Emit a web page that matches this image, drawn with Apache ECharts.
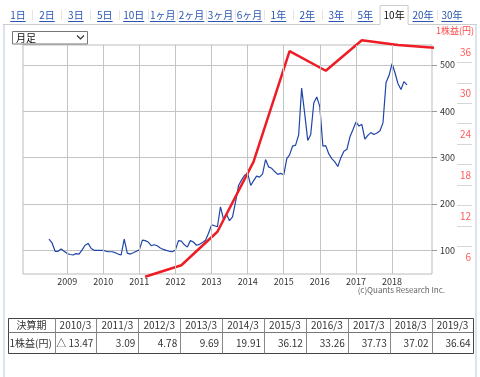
<!DOCTYPE html>
<html>
<head>
<meta charset="utf-8">
<script src="https://cdn.jsdelivr.net/npm/echarts@6/dist/echarts.min.js"></script>
<style>
html, body { margin: 0; padding: 0; background: #fff; }
#chart { width: 480px; height: 377px; }
</style>
</head>
<body>
<div id="chart"></div>
<script>
// 株価 (月足) 2008/7 〜 2018/6
const priceStart = [2008, 7]
const priceValues = [
  124, 116, 98, 98, 103, 98,
  93, 91, 90, 93, 92, 101, 111, 115, 104, 100, 100, 100,
  100, 98, 97, 97, 95, 92, 90, 124, 94, 92, 95, 98,
  101, 122, 121, 118, 110, 112, 110, 105, 102, 100, 98, 97,
  101, 121, 120, 112, 107, 121, 118, 111, 113, 117, 122, 137,
  155, 153, 151, 194, 168, 178, 164, 172, 205, 240, 252, 262,
  266, 240, 250, 260, 258, 265, 296, 280, 277, 270, 264, 266,
  263, 298, 306, 325, 327, 349, 450, 395, 337, 350, 418, 431,
  410, 325, 326, 308, 298, 291, 281, 300, 314, 318, 345, 360,
  377, 368, 372, 340, 348, 354, 350, 353, 358, 375, 462, 477,
  503, 482, 460, 447, 464, 457
]

// 決算期 / 1株益(円)
const periods = ['2010/3', '2011/3', '2012/3', '2013/3', '2014/3', '2015/3', '2016/3', '2017/3', '2018/3', '2019/3']
const epsValues = [-13.47, 3.09, 4.78, 9.69, 19.91, 36.12, 33.26, 37.73, 37.02, 36.64]

const yearTicks = [2009, 2010, 2011, 2012, 2013, 2014, 2015, 2016, 2017, 2018]
const priceTicks = [100, 200, 300, 400, 500]
const epsLabels = [6, 12, 18, 24, 30, 36]
const epsMinor = [7.5, 10.5, 13.5, 16.5, 19.5, 22.5, 25.5, 28.5, 31.5, 34.5]

const tabs = ['1日', '2日', '3日', '5日', '10日', '1ヶ月', '2ヶ月', '3ヶ月', '6ヶ月', '1年', '2年', '3年', '5年', '10年', '20年', '30年']
const activeTab = '10年'

const FONT = '"Noto Sans CJK JP", "Noto Sans", sans-serif'

const priceData = priceValues.map((v, i) => {
  const m = priceStart[1] - 1 + i
  return [new Date(priceStart[0] + Math.floor(m / 12), m % 12, 1).getTime(), v]
})

const epsData = periods
  .map((p, i) => {
    const [y, m] = p.split('/').map(Number)
    return [new Date(y, m - 1, 1).getTime(), epsValues[i]]
  })
  .filter(d => d[1] > 0)

const yearDates = yearTicks.map(y => new Date(y, 0, 1).getTime())

const measure = document.createElement('canvas').getContext('2d')
measure.font = '10px ' + FONT

const graphics = []

// frame
graphics.push({ type: 'rect', shape: { x: 3, y: 24, width: 2, height: 353 }, style: { fill: '#dde3ec' }, silent: true })
graphics.push({ type: 'rect', shape: { x: 475, y: 24, width: 2, height: 353 }, style: { fill: '#dde3ec' }, silent: true })

// tab bar
const tabStep = 28.93
const activeIdx = tabs.indexOf(activeTab)
const aL = 18 + activeIdx * tabStep - 14
const aR = 18 + activeIdx * tabStep + 14
graphics.push({ type: 'line', shape: { x1: 3, y1: 24.5, x2: aL, y2: 24.5 }, style: { stroke: '#ccc' } })
graphics.push({ type: 'line', shape: { x1: aR, y1: 24.5, x2: 477, y2: 24.5 }, style: { stroke: '#ccc' } })
graphics.push({
  type: 'polyline',
  shape: { points: [[aL, 24.5], [aL, 5.5], [aR, 5.5], [aR, 24.5]] },
  style: { stroke: '#ccc', fill: null }
})
tabs.forEach((t, i) => {
  const cx = 18 + i * tabStep
  const active = t === activeTab
  graphics.push({
    type: 'text',
    style: {
      text: t, x: cx, y: 15, align: 'center', verticalAlign: 'middle',
      font: '10px ' + FONT,
      fill: active ? '#111' : '#2a55b0'
    }
  })
  if (!active) {
    const w = measure.measureText(t).width
    graphics.push({ type: 'line', shape: { x1: cx - w / 2, y1: 21.5, x2: cx + w / 2, y2: 21.5 }, style: { stroke: '#2a55b0', lineWidth: 1 } })
  }
  if (i < tabs.length - 1 && i !== activeIdx && i + 1 !== activeIdx) {
    const sx = Math.round(cx + tabStep / 2) + 0.5
    graphics.push({ type: 'line', shape: { x1: sx, y1: 10, x2: sx, y2: 20 }, style: { stroke: '#e6e6e6' } })
  }
})

// 月足 select
graphics.push({ type: 'rect', shape: { x: 12.5, y: 31.5, width: 75, height: 12.5 }, style: { fill: '#fff', stroke: '#777' } })
graphics.push({ type: 'text', style: { text: '月足', x: 16, y: 38, verticalAlign: 'middle', font: '10px ' + FONT, fill: '#111' } })
graphics.push({ type: 'polyline', shape: { points: [[77, 35.5], [80.5, 39], [84, 35.5]] }, style: { stroke: '#333', lineWidth: 1.2, fill: null } })

// EPS axis name
graphics.push({ type: 'text', style: { text: '1株益(円)', x: 455, y: 31, align: 'center', verticalAlign: 'middle', font: '9px ' + FONT, fill: '#ff4a4a' } })

// copyright
graphics.push({ type: 'text', style: { text: '(c)Quants Research Inc.', x: 445, y: 290, align: 'right', verticalAlign: 'middle', font: '8px ' + FONT, fill: '#666' } })

// 決算表
const tL = 8.5, tR = 473.5, tTop = 318.5, tMid = 332.5, tBot = 353.5
const firstW = 46
const colW = (tR - tL - firstW) / periods.length
graphics.push({ type: 'rect', shape: { x: tL, y: tTop, width: tR - tL, height: tBot - tTop }, style: { fill: '#fff', stroke: '#444' } })
graphics.push({ type: 'line', shape: { x1: tL, y1: tMid, x2: tR, y2: tMid }, style: { stroke: '#777' } })
for (let i = 0; i < periods.length; i++) {
  const x = Math.round(tL + firstW + i * colW) + 0.5
  graphics.push({ type: 'line', shape: { x1: x, y1: tTop, x2: x, y2: tBot }, style: { stroke: '#888' } })
}
graphics.push({ type: 'text', style: { text: '決算期', x: tL + firstW / 2, y: (tTop + tMid) / 2, align: 'center', verticalAlign: 'middle', font: '10px ' + FONT, fill: '#333' } })
graphics.push({ type: 'text', style: { text: '1株益(円)', x: tL + 1, y: (tMid + tBot) / 2, verticalAlign: 'middle', font: '10px ' + FONT, fill: '#333' } })
periods.forEach((p, i) => {
  const left = tL + firstW + i * colW
  graphics.push({ type: 'text', style: { text: p, x: left + colW / 2, y: (tTop + tMid) / 2, align: 'center', verticalAlign: 'middle', font: '10px ' + FONT, fill: '#333' } })
  const v = epsValues[i]
  const txt = v < 0 ? '△ ' + Math.abs(v).toFixed(2) : v.toFixed(2)
  graphics.push({ type: 'text', style: { text: txt, x: left + colW - 3, y: (tMid + tBot) / 2, align: 'right', verticalAlign: 'middle', font: '10px ' + FONT, fill: '#333' } })
})

const chart = echarts.init(document.getElementById('chart'))
const yearMs = 365.25 * 24 * 3600 * 1000

chart.setOption({
  animation: false,
  textStyle: { fontFamily: FONT },
  grid: { left: 23, right: 48, top: 45, bottom: 103, show: true, borderColor: '#bbb', borderWidth: 1 },
  xAxis: {
    type: 'time',
    min: new Date(2007, 9, 12).getTime(),
    max: new Date(2019, 1, 9).getTime(),
    minInterval: yearMs,
    maxInterval: yearMs,
    axisLine: { show: false },
    axisTick: { show: false },
    splitLine: { show: false },
    axisLabel: {
      color: '#333', fontSize: 9, margin: 3,
      formatter: v => {
        const d = new Date(v)
        const ok = d.getMonth() === 0 && d.getDate() === 1 && yearTicks.includes(d.getFullYear())
        return ok ? String(d.getFullYear()) : ''
      }
    }
  },
  yAxis: [
    {
      type: 'value',
      position: 'right',
      min: 49,
      max: 543,
      axisLine: { show: false },
      axisTick: { show: true, length: 5, lineStyle: { color: '#999' }, customValues: priceTicks },
      axisLabel: { customValues: priceTicks, color: '#333', fontSize: 9, margin: 8 },
      splitLine: { show: true, lineStyle: { color: '#c4c4c4' } }
    },
    {
      type: 'value',
      position: 'right',
      offset: 25,
      min: 3.5,
      max: 37.03,
      axisLine: { show: false },
      axisTick: { show: true, length: 15, lineStyle: { color: '#d6d6d6' }, customValues: epsMinor },
      axisLabel: { customValues: epsLabels, color: '#ff5a5a', fontSize: 10, align: 'right', margin: 14 },
      splitLine: { show: false }
    }
  ],
  series: [
    {
      name: '株価',
      type: 'line',
      yAxisIndex: 0,
      data: priceData,
      showSymbol: false,
      lineStyle: { color: '#1f45a8', width: 1.2 },
      itemStyle: { color: '#1f45a8' },
      markLine: {
        silent: true,
        symbol: 'none',
        label: { show: false },
        lineStyle: { color: '#c4c4c4', width: 1, type: 'solid' },
        data: yearDates.map(d => ({ xAxis: d }))
      }
    },
    {
      name: '1株益',
      type: 'line',
      yAxisIndex: 1,
      data: epsData,
      showSymbol: false,
      clip: false,
      lineStyle: { color: '#ee1c25', width: 2.5 },
      itemStyle: { color: '#ee1c25' }
    }
  ],
  graphic: graphics
})
</script>
</body>
</html>
